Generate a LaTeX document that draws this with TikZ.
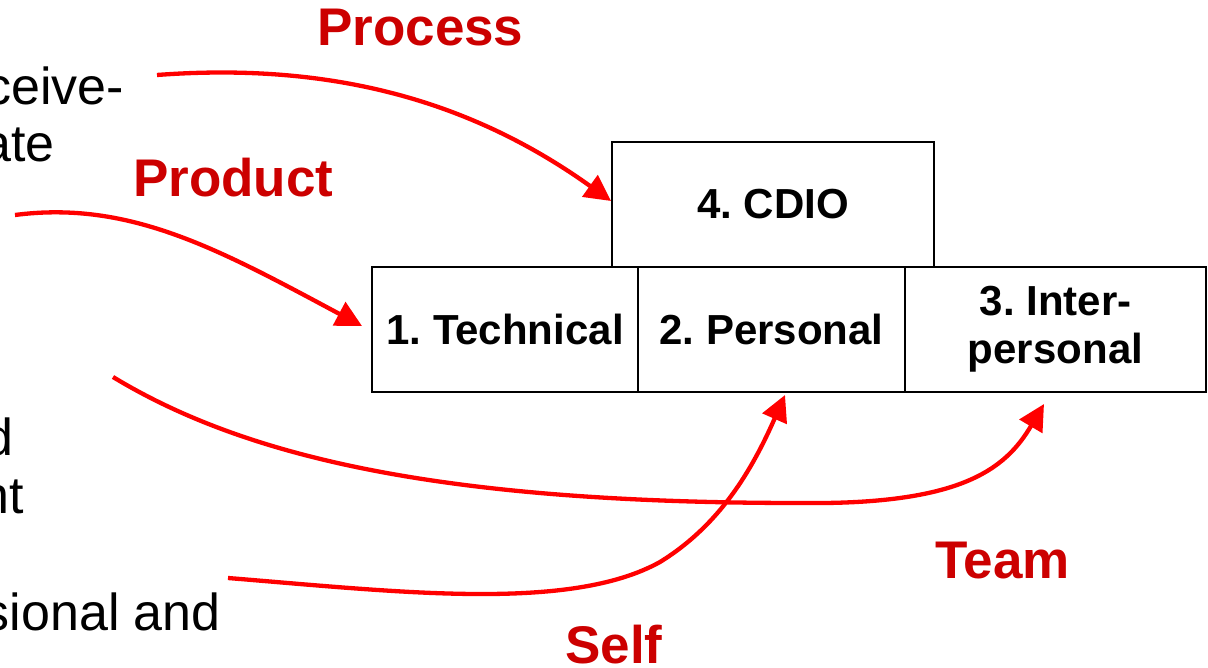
\documentclass[tikz,border=0pt]{standalone}
\usepackage{fontspec}
\setmainfont{Liberation Sans}
\usetikzlibrary{arrows.meta}
\definecolor{lbl}{RGB}{204,0,0}
\definecolor{arr}{RGB}{255,0,0}
\frenchspacing
\begin{document}
\begin{tikzpicture}[x=1pt,y=-1pt,
  box/.style={draw=black,line width=2pt,inner sep=0pt,align=center,
    minimum height=125pt,font=\fontsize{42}{48}\selectfont\bfseries},
  redlbl/.style={text=lbl,inner sep=0pt,anchor=base west,font=\fontsize{53}{60}\selectfont\bfseries},
  bodytxt/.style={inner sep=0pt,anchor=base east,font=\fontsize{52}{60}\selectfont},
  conn/.style={draw=arr,line width=4.3pt,-{Triangle[length=26pt,width=26pt]}}]
\useasboundingbox (0,0) rectangle (1208,668);
% boxes
\node[box,minimum width=322pt] (cdio) at (773,204.5) {4. CDIO};
\node[box,minimum width=266pt] (tech) at (505,329.5) {1. Technical};
\node[box,minimum width=267pt] (pers) at (771.5,329.5) {2. Personal};
\node[box,minimum width=301pt] (inter) at (1055.5,329.5) {3. Inter-\\personal};
% left text (cut off at the left edge, as in the reference)
\node[bodytxt] (t1) at (124,105) {ceive-};
\node[bodytxt] (t2) at (55,162) {ate};
\node[bodytxt] (t3) at (14,455) {d};
\node[bodytxt] (t4) at (24,513) {nt};
\node[bodytxt] (t5) at (221,630) {sional and};
% red labels
\node[redlbl] (lproc) at (317,46) {Process};
\node[redlbl] (lprod) at (133,197) {Product};
\node[redlbl] (lteam) at (935,578) {Team};
\node[redlbl] (lself) at (565,663) {Self};
% arrow endpoints
\coordinate (sproc) at (157,75);
\coordinate (eproc) at (611,201);
\coordinate (sprod) at (15,215);
\coordinate (eprod) at (362,326);
\coordinate (steam) at (113,377);
\coordinate (mteam) at (800,503);
\coordinate (eteam) at (1044,404);
\coordinate (sself) at (228,578);
\coordinate (mself) at (660,562);
\coordinate (eself) at (785,395);
% connectors
\draw[conn] (sproc) .. controls (330,62) and (470,100) .. (eproc);
\draw[conn] (sprod) .. controls (130,200) and (220,250) .. (eprod);
\draw[conn] (steam) .. controls (250,460) and (450,503) .. (mteam)
  .. controls (960,505) and (1005,470) .. (eteam);
\draw[conn] (sself) .. controls (400,592) and (570,612) .. (mself)
  .. controls (720,525) and (752,470) .. (eself);
\end{tikzpicture}
\end{document}
